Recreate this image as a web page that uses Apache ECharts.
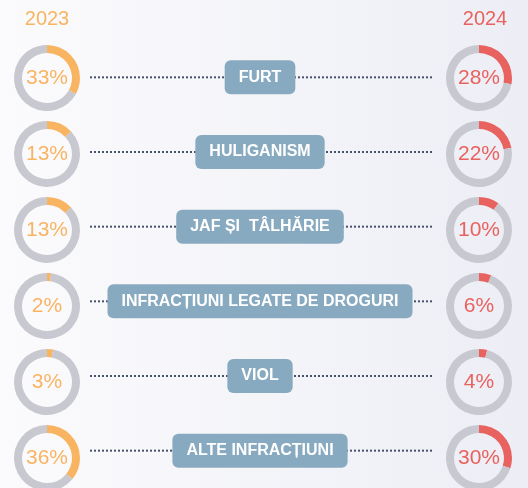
<!DOCTYPE html>
<html>
<head>
<meta charset="utf-8">
<script src="https://cdn.jsdelivr.net/npm/echarts@6/dist/echarts.min.js"></script>
<style>
  html, body { margin: 0; padding: 0; }
  #chart { width: 528px; height: 488px; }
</style>
</head>
<body>
<div id="chart"></div>
<script>
// data
let categories = ["FURT", "HULIGANISM", "JAF ȘI  TÂLHĂRIE", "INFRACȚIUNI LEGATE DE DROGURI", "VIOL", "ALTE INFRACȚIUNI"];
let years = ["2023", "2024"];
let share2023 = [33, 13, 13, 2, 3, 36];
let share2024 = [28, 22, 10, 6, 4, 30];

// layout
let rowTop = 40;
let rowStep = 76;
let leftX = 47;
let rightX = 479;
let dotsFrom = 90;
let dotsTo = 433;
let labelX = 260;

let orange = "#F9B462";
let red = "#E8625F";
let ringGray = "#C7C8D0";

function rowY(i) {
  return rowTop + rowStep / 2 + rowStep * i;
}

function donut(value, i, x, color) {
  return {
    type: "pie",
    center: [x, rowY(i)],
    radius: [25, 33],
    startAngle: 90,
    clockwise: true,
    silent: true,
    animation: false,
    labelLine: { show: false },
    emphasis: { disabled: true },
    data: [
      {
        value: value,
        itemStyle: { color: color },
        label: {
          show: true,
          position: "center",
          formatter: value + "%",
          color: color,
          fontSize: 21,
          fontFamily: "Liberation Sans, Arial, sans-serif"
        }
      },
      {
        value: 100 - value,
        itemStyle: { color: ringGray },
        label: { show: false }
      }
    ]
  };
}

let series = [];

categories.forEach(function (name) {
  series.push({
    type: "line",
    data: [[dotsFrom, name], [dotsTo, name]],
    symbol: "none",
    silent: true,
    animation: false,
    z: 1,
    lineStyle: { color: "#46536B", width: 2, type: [2, 2] }
  });
});

series.push({
  type: "scatter",
  symbolSize: 0,
  silent: true,
  animation: false,
  z: 5,
  itemStyle: { opacity: 1 },
  data: categories.map(function (name) {
    return { name: name, value: [labelX, name] };
  }),
  label: {
    show: true,
    position: "inside",
    formatter: "{b}",
    color: "#fff",
    fontWeight: "bold",
    fontSize: 16,
    lineHeight: 16,
    fontFamily: "Liberation Sans, Arial, sans-serif",
    backgroundColor: "#88AAC0",
    borderRadius: 6,
    padding: [9, 14]
  }
});

share2023.forEach(function (v, i) {
  series.push(donut(v, i, leftX, orange));
});
share2024.forEach(function (v, i) {
  series.push(donut(v, i, rightX, red));
});

let option = {
  backgroundColor: {
    type: "linear", x: 0, y: 0, x2: 1, y2: 0,
    colorStops: [
      { offset: 0, color: "#FBFBFD" },
      { offset: 1, color: "#EDEEF5" }
    ]
  },
  title: [
    {
      text: years[0], left: leftX, top: 9, textAlign: "center", padding: 0,
      textStyle: { color: orange, fontSize: 20, fontWeight: "normal", fontFamily: "Liberation Sans, Arial, sans-serif" }
    },
    {
      text: years[1], left: 485, top: 9, textAlign: "center", padding: 0,
      textStyle: { color: red, fontSize: 20, fontWeight: "normal", fontFamily: "Liberation Sans, Arial, sans-serif" }
    }
  ],
  grid: { left: 0, right: 0, top: rowTop, height: rowStep * categories.length },
  xAxis: { type: "value", min: 0, max: 528, show: false },
  yAxis: { type: "category", data: categories, inverse: true, show: false },
  series: series
};

let chart = echarts.init(document.getElementById("chart"), null, { renderer: "canvas" });
chart.setOption(option);
</script>
</body>
</html>
